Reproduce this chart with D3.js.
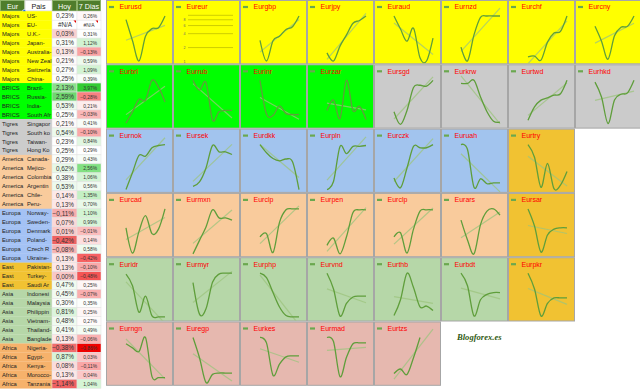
<!DOCTYPE html>
<html>
<head>
<meta charset="utf-8">
<script src="https://cdn.jsdelivr.net/npm/d3@7"></script>
<style>
  body { margin: 0; background: #fff; }
  svg { display: block; font-family: "Liberation Sans", Arial, sans-serif; }
</style>
</head>
<body>
<svg id="chart" width="640" height="390"></svg>
<script>
// ---- tabla ----
const grupoFilas = [["Majors", 8], ["BRICS", 4], ["Tigres", 4], ["America", 6], ["Europa", 6], ["East", 3], ["Asia", 6], ["Africa", 5]];
const paises = ["US-", "EU-", "U.K.-", "Japan-", "Australia-", "New Zealand-", "Switzerland-", "China-",
  "Brazil-", "Russia-", "India-", "South Africa-",
  "Singapore-", "South korea-", "Taiwan-", "Hong Kong-",
  "Canada-", "Mejico-", "Colombia-", "Argentina-", "Chile-", "Peru-",
  "Norway-", "Sweden-", "Denmark-", "Poland-", "Czech Rep.-", "Ukraine-",
  "Pakistan-", "Turkey-", "Saudi Arabia-",
  "Indonesia-", "Malaysia-", "Philippines-", "Vietnam-", "Thailand-", "Bangladesh-",
  "Nigeria-", "Egypt-", "Kenya-", "Morocco-", "Tanzania-"];
const hoy = [0.23, null, 0.03, 0.31, 0.13, 0.21, 0.27, 0.25,
  2.13, 2.59, 0.53, 0.25,
  0.21, 0.54, 0.23, 0.25,
  0.29, 0.62, 0.38, 0.53, 0.14, 0.13,
  -0.11, 0.07, 0.01, -0.42, -0.08, 0.13,
  0.13, 0.00, 0.47,
  0.45, 0.30, 0.81, 0.48, 0.41, 0.13,
  -0.38, 0.87, 0.08, 0.13, -1.14];
const dias7 = [0.26, null, 0.31, 1.12, -0.13, 0.59, 1.09, 0.39,
  3.97, -0.28, 0.21, -0.03,
  0.41, -0.10, 0.84, 0.29,
  0.43, 2.56, 1.06, 0.56, 1.35, 0.70,
  1.10, 0.99, -0.01, 0.14, 0.58, -0.42,
  -0.10, -0.48, 0.25,
  -0.07, 0.35, 0.25, 0.27, 0.49, -0.06,
  -0.86, 0.03, -0.11, 0.04, 1.04];

// ---- mini graficos (ultimos 7 dias, nivel relativo 0-100) ----
const pares = [
  ["Eurusd", "Eureur", "Eurgbp", "Eurjpy", "Euraud", "Eurnzd", "Eurchf", "Eurcny"],
  ["Eurbrl", "Eurrub", "Eurinr", "Eurzar", "Eursgd", "Eurkrw", "Eurtwd", "Eurhkd"],
  ["Eurnok", "Eursek", "Eurdkk", "Eurpln", "Eurczk", "Euruah", "Eurtry"],
  ["Eurcad", "Eurmxn", "Eurclp", "Eurpen", "Eurclp", "Eurars", "Eursar"],
  ["Euridr", "Eurmyr", "Eurphp", "Eurvnd", "Eurthb", "Eurbdt", "Eurpkr"],
  ["Eurngn", "Euregp", "Eurkes", "Eurmad", "Eurtzs"]
];
const gruposPares = [
  ["Majors", "Majors", "Majors", "Majors", "Majors", "Majors", "Majors", "Majors"],
  ["BRICS", "BRICS", "BRICS", "BRICS", "Tigres", "Tigres", "Tigres", "Tigres"],
  ["Europa", "Europa", "Europa", "Europa", "Europa", "Europa", "East"],
  ["America", "America", "America", "America", "America", "America", "East"],
  ["Asia", "Asia", "Asia", "Asia", "Asia", "Asia", "East"],
  ["Africa", "Africa", "Africa", "Africa", "Africa"]
];
const cierres = [
  [[92, 45, 0, 55, 72, 74, 100], null, [46, 0, 45, 55, 70, 76, 100], [18, 0, 33, 58, 84, 90, 100],
   [100, 71, 44, 73, 7, 0, 51], [31, 0, 58, 97, 100, 100, 100], [9, 11, 2, 42, 62, 66, 100], [77, 44, 4, 56, 75, 77, 100]],
  [[5, 30, 58, 56, 100, 85, 52], [100, 78, 95, 12, 30, 33, 33], [100, 25, 22, 43, 26, 24, 24], [33, 56, 15, 100, 33, 42, 13],
   [30, 2, 33, 84, 89, 87, 100], [93, 93, 100, 63, 30, 9, 7], [11, 41, 56, 61, 67, 70, 100], [96, 63, 4, 56, 69, 72, 100]],
  [[0, 38, 76, 74, 93, 98, 100], [7, 17, 48, 98, 84, 84, 78], [100, 82, 69, 64, 68, 62, 0], [0, 18, 96, 80, 96, 96, 98],
   [26, 4, 48, 96, 93, 93, 100], [100, 89, 5, 24, 13, 15, 15], [100, 72, 5, 58, 2, 10, 40]],
  [[58, 2, 50, 85, 45, 55, 100], [0, 30, 60, 98, 80, 80, 75], [38, 45, 3, 70, 98, 100, 100], [19, 35, 0, 38, 92, 98, 98],
   [38, 47, 2, 55, 95, 98, 98], [75, 31, 0, 65, 95, 100, 86], [100, 62, 4, 42, 55, 58, 58]],
  [[98, 72, 13, 49, 5, 3, 3], [79, 9, 21, 80, 98, 100, 100], [100, 90, 57, 25, 6, 3, 3], [100, 65, 5, 33, 47, 49, 49],
   [6, 41, 100, 68, 25, 27, 17], [100, 72, 5, 41, 53, 57, 57], [100, 65, 5, 33, 45, 45, 45]],
  [[86, 77, 69, 100, 13, 11, 11], [100, 55, 0, 18, 21, 21, 21], [100, 88, 16, 41, 57, 59, 59], [100, 91, 13, 56, 86, 88, 88],
   [20, 30, 18, 55, 100, null, null]]
];
// Eureur: grafico vacio con eje logaritmico
const eureurGrid = [2, 4, 6, 8, 10];
const eureurTicks = [1, 2, 4, 6, 8];

// colores
const colorTabla = {Majors: "#ffff00", BRICS: "#00ff00", Tigres: "#cccccc", America: "#f9cb9c",
  Europa: "#a4c2f4", East: "#f1c232", Asia: "#b6d7a8", Africa: "#f6b26b"};
const colorPanel = {Majors: "#ffff00", BRICS: "#00ff00", Tigres: "#cbcbcb", America: "#f9cb9c",
  Europa: "#a2c4ee", East: "#f1c232", Asia: "#b6d7a8", Africa: "#e6b8af"};
const verdeOscuro = "#4f7d2c";

const svg = d3.select("#chart");
const grupos = grupoFilas.flatMap(([g, n]) => d3.range(n).map(() => g));
const n = paises.length;

const y = d3.scaleBand().domain(d3.range(n)).range([11.2, 11.2 + n * 8.98]);
const cx = {grupo: 0, pais: 25, hoy: 52, dias: 77, fin: 101};

const fmt = v => v == null ? "#N/A" : d3.format(".2f")(v).replace(".", ",") + "%";
const colHoy = d3.scaleLinear().domain([-0.42, d3.median(hoy), d3.max(hoy)])
  .range(["#ef6262", "#ffffff", "#6fd86f"]).clamp(true);
const colDias = d3.scaleLinear().domain([d3.min(dias7), d3.median(dias7), d3.max(dias7)])
  .range(["#f00000", "#ffffff", "#33cc33"]).clamp(true);

// cabecera
const head = svg.append("g");
head.append("rect").attr("x", 0.5).attr("y", 0.5).attr("width", 24).attr("height", 10.5)
  .attr("fill", verdeOscuro).attr("stroke", "#8db36a");
head.append("rect").attr("x", 25).attr("y", 0.5).attr("width", 27).attr("height", 10.5)
  .attr("fill", "#fff").attr("stroke", "#d9d9d9");
head.append("rect").attr("x", cx.hoy + 0.5).attr("y", 0.5).attr("width", cx.dias - cx.hoy - 1).attr("height", 10.5)
  .attr("fill", verdeOscuro).attr("stroke", "#8db36a");
head.append("rect").attr("x", cx.dias + 0.5).attr("y", 0.5).attr("width", cx.fin - cx.dias - 1).attr("height", 10.5)
  .attr("fill", verdeOscuro).attr("stroke", "#8db36a");
head.selectAll("text")
  .data([["Eur", 12.5, "#fff"], ["Pais", 38.5, "#222"], ["Hoy", 64.5, "#fff"], ["7 Dias", 89, "#fff"]])
  .join("text")
  .attr("x", d => d[1]).attr("y", 8.6)
  .attr("text-anchor", "middle").attr("font-size", 7.2).attr("fill", d => d[2])
  .text(d => d[0]);
head.append("rect").attr("x", 22.5).attr("y", 9.5).attr("width", 3.5).attr("height", 3.5)
  .attr("rx", 1.7).attr("fill", "#1a73e8").attr("stroke", "#fff").attr("stroke-width", 0.6);

// filas
const filas = svg.append("g").selectAll("g")
  .data(d3.range(n))
  .join("g")
  .attr("transform", i => `translate(0,${y(i)})`);

filas.append("rect").attr("x", 0).attr("width", cx.hoy).attr("height", y.bandwidth() + 0.2)
  .attr("fill", i => colorTabla[grupos[i]]);
filas.append("rect").attr("x", cx.hoy).attr("width", cx.dias - cx.hoy).attr("height", y.bandwidth())
  .attr("fill", i => hoy[i] == null ? "#fff" : colHoy(hoy[i]))
  .attr("stroke", "#e2e2e2").attr("stroke-width", 0.5);
filas.append("rect").attr("x", cx.dias).attr("width", cx.fin - cx.dias).attr("height", y.bandwidth())
  .attr("fill", i => dias7[i] == null ? "#fff" : colDias(dias7[i]))
  .attr("stroke", "#e2e2e2").attr("stroke-width", 0.5);

filas.append("text").attr("x", 2).attr("y", 6.6).attr("font-size", 5.8).attr("fill", "#222")
  .text(i => grupos[i]);
// nombre del pais: se corta como en la hoja de calculo
filas.append("text").attr("x", cx.pais + 2).attr("y", 6.6).attr("font-size", 5.8).attr("fill", "#222")
  .text(i => paises[i])
  .each(function (i) {
    const t = d3.select(this);
    let s = paises[i];
    while (s.length > 1 && this.getComputedTextLength() > cx.hoy - cx.pais - 2.5) {
      s = s.slice(0, -1);
      t.text(s);
    }
  });
filas.append("text").attr("x", i => hoy[i] == null ? 65 : cx.dias - 3).attr("y", 6.9)
  .attr("text-anchor", i => hoy[i] == null ? "middle" : "end")
  .attr("font-size", 6.4).attr("fill", "#333")
  .text(i => fmt(hoy[i]));
filas.append("text").attr("x", i => dias7[i] == null ? 89 : cx.fin - 4).attr("y", 6.5)
  .attr("text-anchor", i => dias7[i] == null ? "middle" : "end")
  .attr("font-size", 4.9).attr("fill", "#333")
  .text(i => fmt(dias7[i]));
// indicador de comentario en #N/A
filas.filter(i => hoy[i] == null).each(function () {
  const g = d3.select(this);
  [cx.dias - 1, cx.fin - 3].forEach(xr => g.append("path")
    .attr("d", `M${xr - 2.5},0.4 L${xr},0.4 L${xr},2.9 Z`).attr("fill", "#e00000"));
});

// ---- paneles ----
const tileW = 67, tileH = 64.3, x0 = 106;
const xs = d3.scalePoint().domain(d3.range(7)).range([20, 59]);
const ys = d3.scaleLinear().domain([0, 100]).range([61, 16]);
const linea = d3.line()
  .defined(d => d[1] != null)
  .x(d => xs(d[0])).y(d => ys(d[1]))
  .curve(d3.curveCatmullRom.alpha(0));

function tendencia(vals) {
  const pts = vals.map((v, i) => [i, v]).filter(d => d[1] != null);
  const mx = d3.mean(pts, d => d[0]), my = d3.mean(pts, d => d[1]);
  const b = d3.sum(pts, d => (d[0] - mx) * (d[1] - my)) / d3.sum(pts, d => (d[0] - mx) ** 2);
  const a = my - b * mx;
  return [[0, a], [6, a + b * 6]];
}

pares.forEach((fila, r) => fila.forEach((nombre, c) => {
  const g = svg.append("g").attr("transform", `translate(${x0 + c * tileW},${r * tileH})`);
  const id = `clip-${r}-${c}`;
  g.append("clipPath").attr("id", id)
    .append("rect").attr("width", tileW - 1).attr("height", tileH - 1);
  g.append("rect").attr("x", 0.5).attr("y", 0.5).attr("width", tileW - 1).attr("height", tileH - 1)
    .attr("fill", colorPanel[gruposPares[r][c]]).attr("stroke", "#a6a6a6");

  g.append("line").attr("x1", 3).attr("x2", 8).attr("y1", 7).attr("y2", 7)
    .attr("stroke", "#6aa84f").attr("stroke-width", 2.2);
  g.append("text").attr("x", 13.5).attr("y", 9.4).attr("font-size", 7).attr("fill", "#ff0000")
    .text(nombre);

  const vals = cierres[r][c];
  const plot = g.append("g").attr("clip-path", `url(#${id})`);
  if (vals == null) {
    const yl = d3.scaleLog().domain([1, 10]).range([61.5, 15.3]);
    plot.selectAll("line").data(eureurGrid).join("line")
      .attr("x1", 15).attr("x2", 60).attr("y1", d => yl(d)).attr("y2", d => yl(d))
      .attr("stroke", "#c2c200").attr("stroke-width", 0.8);
    plot.selectAll("text").data(eureurTicks).join("text")
      .attr("x", 12.5).attr("y", d => yl(d) + 1.3).attr("text-anchor", "end")
      .attr("font-size", 3.6).attr("fill", "#666").text(d => d);
    return;
  }
  plot.append("path").datum(tendencia(vals))
    .attr("d", d3.line().x(d => xs(d[0])).y(d => ys(d[1])))
    .attr("fill", "none").attr("stroke", "#9cc47e").attr("stroke-opacity", 0.75).attr("stroke-width", 1.2);
  plot.append("path").datum(vals.map((v, i) => [i, v]))
    .attr("d", linea)
    .attr("fill", "none").attr("stroke", "#5f9e3b").attr("stroke-width", 1.3);
}));

// firma
svg.append("text").attr("x", 457).attr("y", 340)
  .attr("font-family", "'Liberation Serif', serif").attr("font-style", "italic").attr("font-weight", "bold")
  .attr("font-size", 8.6).attr("fill", "#2f5a12")
  .text("Blogforex.es");
</script>
</body>
</html>
